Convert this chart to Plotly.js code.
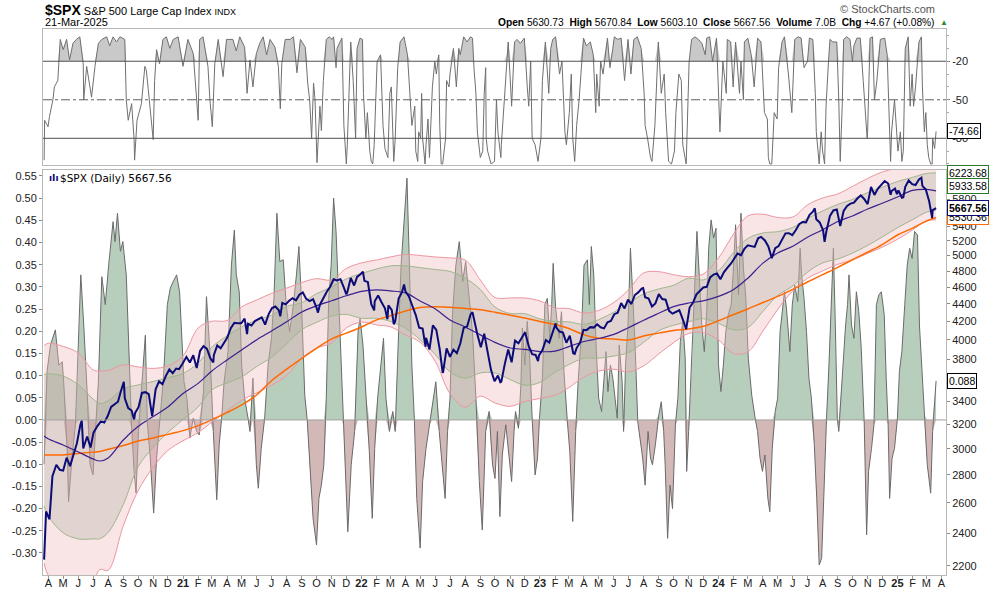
<!DOCTYPE html>
<html><head><meta charset="utf-8">
<script src="https://cdn.plot.ly/plotly-3.0.1.min.js"></script>
<style>html,body{margin:0;padding:0;background:#fff}#chart{width:990px;height:591px}</style>
</head><body><div id="chart"></div><script>
// ---------------- DATA ----------------
// $SPX closes (weekly plus key daily turning points)
const spx = [
['2020-03-23',2237],['2020-03-27',2541],['2020-04-03',2489],['2020-04-09',2790],['2020-04-17',2875],['2020-04-24',2837],
['2020-05-01',2831],['2020-05-08',2930],['2020-05-15',2864],['2020-05-22',2955],['2020-05-29',3044],['2020-06-05',3194],
['2020-06-08',3232],['2020-06-11',3002],['2020-06-19',3098],['2020-06-26',3009],['2020-07-02',3130],['2020-07-10',3185],
['2020-07-17',3225],['2020-07-24',3216],['2020-07-31',3271],['2020-08-07',3351],['2020-08-14',3373],['2020-08-21',3397],
['2020-08-28',3508],['2020-09-02',3580],['2020-09-04',3427],['2020-09-11',3341],['2020-09-18',3319],['2020-09-23',3237],
['2020-09-25',3298],['2020-10-02',3348],['2020-10-09',3477],['2020-10-16',3484],['2020-10-23',3465],['2020-10-30',3270],
['2020-11-06',3510],['2020-11-13',3585],['2020-11-20',3558],['2020-11-27',3638],['2020-12-04',3699],['2020-12-11',3663],
['2020-12-18',3709],['2020-12-24',3703],['2020-12-31',3756],['2021-01-08',3825],['2021-01-15',3768],['2021-01-22',3841],
['2021-01-29',3714],['2021-02-05',3887],['2021-02-12',3934],['2021-02-19',3907],['2021-02-26',3811],['2021-03-04',3768],
['2021-03-05',3842],['2021-03-12',3943],['2021-03-19',3913],['2021-03-26',3975],['2021-04-01',4020],['2021-04-09',4129],
['2021-04-16',4185],['2021-04-23',4180],['2021-04-30',4181],['2021-05-07',4233],['2021-05-12',4063],['2021-05-14',4174],
['2021-05-21',4156],['2021-05-28',4204],['2021-06-04',4230],['2021-06-11',4247],['2021-06-18',4166],['2021-06-25',4281],
['2021-07-02',4352],['2021-07-09',4370],['2021-07-16',4327],['2021-07-19',4258],['2021-07-23',4412],['2021-07-30',4395],
['2021-08-06',4437],['2021-08-13',4468],['2021-08-20',4442],['2021-08-27',4509],['2021-09-03',4535],['2021-09-10',4459],
['2021-09-17',4433],['2021-09-24',4455],['2021-10-01',4357],['2021-10-04',4300],['2021-10-08',4391],['2021-10-15',4471],
['2021-10-22',4545],['2021-10-29',4605],['2021-11-05',4697],['2021-11-12',4683],['2021-11-19',4698],['2021-11-26',4595],
['2021-12-01',4513],['2021-12-03',4538],['2021-12-10',4712],['2021-12-17',4620],['2021-12-23',4726],['2021-12-31',4766],
['2022-01-04',4793],['2022-01-07',4677],['2022-01-14',4663],['2022-01-21',4398],['2022-01-27',4326],['2022-01-28',4432],
['2022-02-04',4500],['2022-02-11',4419],['2022-02-18',4349],['2022-02-23',4225],['2022-02-25',4385],['2022-03-04',4329],
['2022-03-08',4170],['2022-03-11',4204],['2022-03-18',4463],['2022-03-25',4543],['2022-03-29',4632],['2022-04-01',4546],
['2022-04-08',4488],['2022-04-14',4393],['2022-04-22',4272],['2022-04-29',4132],['2022-05-06',4123],['2022-05-12',3930],
['2022-05-13',4024],['2022-05-20',3901],['2022-05-27',4158],['2022-06-03',4109],['2022-06-10',3901],['2022-06-16',3667],
['2022-06-17',3675],['2022-06-24',3912],['2022-07-01',3825],['2022-07-08',3899],['2022-07-15',3863],['2022-07-22',3962],
['2022-07-29',4130],['2022-08-05',4145],['2022-08-12',4280],['2022-08-16',4305],['2022-08-19',4228],['2022-08-26',4058],
['2022-09-02',3924],['2022-09-09',4067],['2022-09-16',3873],['2022-09-23',3693],['2022-09-30',3586],['2022-10-07',3640],
['2022-10-12',3577],['2022-10-14',3583],['2022-10-21',3752],['2022-10-28',3901],['2022-11-04',3771],['2022-11-11',3993],
['2022-11-18',3965],['2022-11-25',4026],['2022-12-01',4076],['2022-12-02',4072],['2022-12-09',3934],['2022-12-16',3852],
['2022-12-23',3845],['2022-12-28',3783],['2022-12-30',3840],['2023-01-06',3895],['2023-01-13',3999],['2023-01-20',3973],
['2023-01-27',4071],['2023-02-02',4179],['2023-02-03',4136],['2023-02-10',4090],['2023-02-17',4079],['2023-02-24',3970],
['2023-03-03',4046],['2023-03-10',3862],['2023-03-13',3855],['2023-03-17',3917],['2023-03-24',3971],['2023-03-31',4109],
['2023-04-06',4105],['2023-04-14',4138],['2023-04-21',4133],['2023-04-28',4169],['2023-05-05',4136],['2023-05-12',4124],
['2023-05-19',4192],['2023-05-26',4205],['2023-06-02',4282],['2023-06-09',4299],['2023-06-16',4410],['2023-06-23',4348],
['2023-06-30',4450],['2023-07-07',4399],['2023-07-14',4505],['2023-07-21',4536],['2023-07-28',4582],['2023-07-31',4589],
['2023-08-04',4478],['2023-08-11',4464],['2023-08-18',4370],['2023-08-25',4406],['2023-09-01',4516],['2023-09-08',4457],
['2023-09-15',4450],['2023-09-22',4320],['2023-09-29',4288],['2023-10-06',4309],['2023-10-13',4327],['2023-10-20',4224],
['2023-10-27',4117],['2023-11-03',4358],['2023-11-10',4415],['2023-11-17',4514],['2023-11-24',4559],['2023-12-01',4595],
['2023-12-08',4604],['2023-12-15',4719],['2023-12-22',4755],['2023-12-29',4770],['2024-01-05',4697],['2024-01-12',4784],
['2024-01-19',4840],['2024-01-26',4891],['2024-02-02',4959],['2024-02-09',5027],['2024-02-16',5006],['2024-02-23',5089],
['2024-03-01',5137],['2024-03-08',5124],['2024-03-15',5117],['2024-03-22',5234],['2024-03-28',5254],['2024-04-05',5204],
['2024-04-12',5123],['2024-04-19',4967],['2024-04-26',5100],['2024-05-03',5128],['2024-05-10',5223],['2024-05-17',5303],
['2024-05-24',5305],['2024-05-31',5278],['2024-06-07',5347],['2024-06-14',5432],['2024-06-21',5465],['2024-06-28',5460],
['2024-07-05',5567],['2024-07-12',5615],['2024-07-16',5667],['2024-07-19',5505],['2024-07-26',5459],['2024-08-02',5346],
['2024-08-05',5186],['2024-08-09',5344],['2024-08-16',5554],['2024-08-23',5634],['2024-08-30',5648],['2024-09-06',5408],
['2024-09-13',5626],['2024-09-20',5703],['2024-09-27',5738],['2024-10-04',5751],['2024-10-11',5815],['2024-10-18',5864],
['2024-10-25',5808],['2024-11-01',5729],['2024-11-08',5995],['2024-11-15',5870],['2024-11-22',5969],['2024-11-29',6032],
['2024-12-06',6090],['2024-12-13',6051],['2024-12-18',5872],['2024-12-20',5931],['2024-12-27',5970],['2024-12-31',5882],
['2025-01-03',5942],['2025-01-10',5827],['2025-01-13',5836],['2025-01-17',5997],['2025-01-24',6101],['2025-01-31',6041],
['2025-02-07',6026],['2025-02-14',6115],['2025-02-19',6144],['2025-02-21',6013],['2025-02-28',5955],['2025-03-07',5770],
['2025-03-10',5615],['2025-03-13',5521],['2025-03-14',5639],['2025-03-21',5667.56]
];

// Bands and moving averages (read monthly)
const bandDates = ['2020-03-23','2020-04-01','2020-05-01','2020-06-01','2020-07-01','2020-07-15','2020-08-01','2020-09-01','2020-10-01','2020-11-01','2020-12-01',
'2021-01-01','2021-02-01','2021-03-01','2021-04-01','2021-05-01','2021-06-01','2021-07-01','2021-08-01','2021-09-01','2021-10-01','2021-11-01','2021-12-01',
'2022-01-01','2022-02-01','2022-03-01','2022-04-01','2022-05-01','2022-06-01','2022-07-01','2022-08-01','2022-09-01','2022-10-01','2022-11-01','2022-12-01',
'2023-01-01','2023-02-01','2023-03-01','2023-04-01','2023-05-01','2023-06-01','2023-07-01','2023-08-01','2023-09-01','2023-10-01','2023-11-01','2023-12-01',
'2024-01-01','2024-02-01','2024-03-01','2024-04-01','2024-05-01','2024-06-01','2024-07-01','2024-08-01','2024-09-01','2024-10-01','2024-11-01','2024-12-01',
'2025-01-01','2025-02-01','2025-03-01','2025-03-21'];
const bandOuterUpper = [3940,3966,3932,3865,3695,3685,3690,3744,3725,3710,3735,
3834,4129,4203,4210,4365,4447,4524,4588,4657,4704,4688,4833,
4904,4943,4982,5015,5001,4982,4969,4943,4688,4476,4470,4470,
4435,4354,4347,4296,4325,4417,4566,4776,4792,4754,4729,4763,
4969,5295,5553,5578,5531,5538,5717,5824,5886,6004,6132,6239,
6305,6389,6440,6513];
const bandInnerUpper = [3651,3659,3635,3553,3422,3380,3406,3514,3551,3584,3619,
3661,3764,3925,4043,4140,4218,4270,4371,4414,4520,4602,4701,
4769,4826,4865,4867,4843,4819,4795,4711,4572,4365,4290,4288,
4229,4200,4197,4169,4221,4305,4408,4518,4578,4622,4710,4689,
4801,5045,5232,5309,5327,5387,5516,5627,5726,5800,5907,5991,
6082,6150,6213,6223.68];
const bandMiddle = [3103,3078,3030,2974,2920,2904,2928,3070,3181,3266,3350,
3472,3566,3685,3794,3896,4003,4096,4197,4308,4377,4437,4496,
4549,4566,4554,4530,4435,4342,4218,4140,4054,3974,3916,3901,
3879,3883,3930,3984,4015,4059,4132,4214,4293,4369,4411,4436,
4488,4571,4710,4901,5035,5126,5249,5354,5473,5553,5657,5743,
5839,5941,5957,5933.58];
const bandInnerLower = [2578,2508,2401,2363,2363,2365,2404,2589,2859,3010,3132,
3241,3350,3505,3570,3627,3730,3820,3960,4110,4190,4260,4280,
4236,4236,4201,4126,4002,3849,3676,3615,3666,3666,3602,3549,
3575,3674,3748,3811,3812,3834,3869,3975,4099,4158,4198,4231,
4179,4108,4133,4314,4501,4615,4786,4904,4956,5033,5136,5253,
5382,5499,5608,5640];
const bandOuterLower = [2217,2143,2080,2050,2110,2180,2175,2447,2683,2857,2986,
3064,3130,3220,3315,3410,3478,3547,3641,3811,3914,3970,4129,
4193,4162,4142,4054,3976,3778,3471,3349,3447,3386,3356,3400,
3426,3457,3526,3627,3683,3702,3676,3735,3855,3971,4070,4078,
4000,3860,3875,4096,4336,4554,4707,4801,4886,4942,5029,5113,
5220,5351,5483,5495];
const maLong = [2951,2951,2951,2963,2973,2978,2996,3026,3061,3087,3116,
3147,3189,3240,3300,3368,3460,3591,3702,3810,3911,4012,4073,
4139,4218,4263,4319,4359,4368,4361,4348,4333,4305,4271,4238,
4200,4166,4123,4054,4018,4011,3999,4043,4073,4101,4117,4147,
4208,4278,4342,4416,4488,4573,4663,4754,4847,4946,5045,5147,
5280,5377,5478,5530.36];

// Oscillator behind price (left axis)
const osc = [
['2020-03-23',-0.10],['2020-03-29',0.109],['2020-04-05',0.169],['2020-04-15',0.203],['2020-04-22',0.124],['2020-04-29',0.131],
['2020-05-02',0.086],['2020-05-09',-0.064],['2020-05-12',-0.184],['2020-05-19',-0.086],['2020-05-26',-0.011],['2020-06-02',0.184],
['2020-06-06',0.327],['2020-06-12',0.214],['2020-06-19',0.064],['2020-06-25',-0.101],['2020-07-01',-0.124],['2020-07-06',-0.026],
['2020-07-12',0.086],['2020-07-19',0.323],['2020-07-26',0.26],['2020-08-02',0.349],['2020-08-11',0.447],['2020-08-15',0.402],
['2020-08-20',0.466],['2020-08-26',0.38],['2020-08-31',0.402],['2020-09-07',0.327],['2020-09-12',0.154],['2020-09-18',-0.019],
['2020-09-23',-0.116],['2020-09-27',-0.165],['2020-10-02',-0.026],['2020-10-09',0.094],['2020-10-16',0.191],['2020-10-20',-0.004],
['2020-10-26',-0.086],['2020-11-02',-0.21],['2020-11-08',-0.086],['2020-11-15',0.004],['2020-11-22',0.094],['2020-11-30',0.26],
['2020-12-06',0.297],['2020-12-12',0.312],['2020-12-19',0.327],['2020-12-25',0.289],['2020-12-29',0.199],['2021-01-03',0.086],
['2021-01-09',0.049],['2021-01-15',-0.041],['2021-01-22',0.004],['2021-01-29',-0.026],['2021-02-03',-0.034],['2021-02-12',0.064],
['2021-02-18',0.278],['2021-02-25',0.154],['2021-03-04',-0.026],['2021-03-11',-0.18],['2021-03-16',-0.056],['2021-03-21',0.004],
['2021-03-26',0.086],['2021-04-03',0.154],['2021-04-10',0.349],['2021-04-16',0.428],['2021-04-20',0.327],['2021-04-26',0.289],
['2021-05-01',0.124],['2021-05-07',0.049],['2021-05-14',0.004],['2021-05-18',-0.026],['2021-05-24',0.094],['2021-05-31',-0.101],
['2021-06-04',-0.154],['2021-06-10',-0.064],['2021-06-17',0.004],['2021-06-24',0.124],['2021-07-01',0.184],['2021-07-06',0.274],
['2021-07-12',0.466],['2021-07-18',0.357],['2021-07-25',0.361],['2021-07-31',0.26],['2021-08-07',0.199],['2021-08-14',0.252],
['2021-08-21',0.327],['2021-08-26',0.391],['2021-08-31',0.274],['2021-09-07',0.056],['2021-09-12',0.0],['2021-09-17',-0.101],
['2021-09-24',-0.222],['2021-10-01',-0.282],['2021-10-06',-0.177],['2021-10-11',-0.147],['2021-10-16',-0.101],['2021-10-21',0.049],
['2021-10-26',0.274],['2021-10-31',0.349],['2021-11-05',0.50],['2021-11-10',0.425],['2021-11-16',0.26],['2021-11-21',0.124],
['2021-11-25',-0.011],['2021-12-01',-0.177],['2021-12-04',-0.252],['2021-12-11',-0.101],['2021-12-18',-0.026],['2021-12-25',0.199],
['2021-12-29',0.229],['2022-01-04',0.169],['2022-01-11',0.049],['2022-01-17',-0.071],['2022-01-23',-0.222],['2022-01-28',-0.064],
['2022-02-03',0.049],['2022-02-10',0.124],['2022-02-15',0.184],['2022-02-20',0.049],['2022-02-27',-0.026],['2022-03-06',0.019],
['2022-03-11',-0.026],['2022-03-16',0.139],['2022-03-23',0.349],['2022-03-30',0.462],['2022-04-04',0.545],['2022-04-09',0.349],
['2022-04-14',0.124],['2022-04-19',0.004],['2022-04-24',-0.177],['2022-05-01',-0.289],['2022-05-06',-0.139],['2022-05-13',-0.064],
['2022-05-20',-0.011],['2022-05-26',0.034],['2022-06-02',0.086],['2022-06-09',-0.026],['2022-06-16',-0.116],['2022-06-21',-0.177],
['2022-06-26',-0.026],['2022-07-01',0.049],['2022-07-06',0.237],['2022-07-13',0.349],['2022-07-20',0.402],['2022-07-27',0.312],
['2022-08-02',0.357],['2022-08-09',0.274],['2022-08-16',0.199],['2022-08-23',0.049],['2022-08-30',-0.139],['2022-09-05',-0.248],
['2022-09-12',-0.026],['2022-09-19',0.019],['2022-09-26',-0.101],['2022-10-01',-0.132],['2022-10-06',-0.026],['2022-10-11',-0.218],
['2022-10-16',-0.079],['2022-10-23',-0.011],['2022-10-30',-0.086],['2022-11-04',-0.139],['2022-11-09',-0.026],['2022-11-12',0.019],
['2022-11-18',-0.019],['2022-11-23',0.079],['2022-11-26',0.207],['2022-12-01',0.124],['2022-12-06',0.222],['2022-12-11',0.139],
['2022-12-16',0.004],['2022-12-22',-0.124],['2022-12-27',-0.086],['2022-12-31',0.004],['2023-01-06',0.094],['2023-01-11',0.26],
['2023-01-16',0.274],['2023-01-21',0.184],['2023-01-25',0.26],['2023-01-28',0.353],['2023-02-02',0.252],['2023-02-09',0.184],
['2023-02-14',0.244],['2023-02-19',0.109],['2023-02-26',-0.004],['2023-03-03',-0.071],['2023-03-09',-0.229],['2023-03-15',-0.026],
['2023-03-20',0.086],['2023-03-27',0.199],['2023-04-01',0.349],['2023-04-08',0.361],['2023-04-12',0.26],['2023-04-16',0.391],
['2023-04-21',0.327],['2023-04-26',0.161],['2023-05-01',0.049],['2023-05-07',0.019],['2023-05-12',0.094],['2023-05-16',0.154],
['2023-05-20',0.064],['2023-05-25',0.124],['2023-05-30',0.094],['2023-06-04',0.049],['2023-06-08',0.004],['2023-06-12',0.169],
['2023-06-18',0.086],['2023-06-21',-0.026],['2023-06-25',0.124],['2023-06-30',0.214],['2023-07-05',0.387],['2023-07-10',0.274],
['2023-07-15',0.154],['2023-07-20',-0.004],['2023-07-25',-0.041],['2023-07-30',-0.086],['2023-08-04',-0.147],['2023-08-10',-0.026],
['2023-08-15',-0.086],['2023-08-19',-0.101],['2023-08-25',-0.056],['2023-09-01',0.011],['2023-09-06',0.041],['2023-09-11',-0.026],
['2023-09-14',-0.101],['2023-09-19',-0.267],['2023-09-24',-0.147],['2023-09-29',-0.2],['2023-10-05',-0.011],['2023-10-10',0.049],
['2023-10-15',0.177],['2023-10-20',0.222],['2023-10-25',0.139],['2023-10-28',-0.116],['2023-11-01',-0.026],['2023-11-04',0.049],
['2023-11-09',0.154],['2023-11-13',0.289],['2023-11-18',0.425],['2023-11-23',0.327],['2023-11-28',0.214],['2023-12-03',0.154],
['2023-12-08',0.244],['2023-12-12',0.387],['2023-12-17',0.451],['2023-12-22',0.41],['2023-12-27',0.432],['2024-01-01',0.124],
['2024-01-06',0.064],['2024-01-11',0.124],['2024-01-16',0.199],['2024-01-21',0.237],['2024-01-27',0.26],['2024-02-01',0.349],
['2024-02-05',0.44],['2024-02-11',0.282],['2024-02-16',0.466],['2024-02-21',0.342],['2024-02-26',0.274],['2024-03-02',0.139],
['2024-03-09',0.056],['2024-03-16',0.004],['2024-03-21',-0.026],['2024-03-26',-0.086],['2024-03-31',-0.116],['2024-04-05',-0.079],
['2024-04-11',-0.177],['2024-04-15',-0.207],['2024-04-20',-0.064],['2024-04-26',0.019],['2024-05-01',0.049],['2024-05-06',0.199],
['2024-05-10',0.244],['2024-05-15',0.289],['2024-05-19',0.252],['2024-05-26',0.154],['2024-05-31',0.26],['2024-06-05',0.304],
['2024-06-11',0.267],['2024-06-16',0.387],['2024-06-19',0.327],['2024-06-24',0.274],['2024-06-29',0.199],['2024-07-04',0.094],
['2024-07-09',0.049],['2024-07-15',-0.056],['2024-07-20',-0.177],['2024-07-25',-0.327],['2024-07-30',-0.312],['2024-08-04',-0.139],
['2024-08-09',0.004],['2024-08-14',0.124],['2024-08-19',0.274],['2024-08-23',0.387],['2024-08-27',0.214],['2024-08-31',0.004],
['2024-09-03',-0.026],['2024-09-07',0.049],['2024-09-12',0.124],['2024-09-17',0.214],['2024-09-21',0.26],['2024-09-24',0.327],
['2024-09-29',0.214],['2024-10-04',0.184],['2024-10-09',0.289],['2024-10-14',0.244],['2024-10-19',0.161],['2024-10-25',-0.004],
['2024-10-30',-0.259],['2024-11-03',-0.116],['2024-11-09',-0.064],['2024-11-14',-0.011],['2024-11-19',0.26],['2024-11-24',0.282],
['2024-11-29',0.289],['2024-12-05',0.237],['2024-12-09',0.094],['2024-12-13',-0.011],['2024-12-16',-0.177],['2024-12-21',-0.086],
['2024-12-26',-0.064],['2025-01-01',0.004],['2025-01-05',0.109],['2025-01-10',0.154],['2025-01-16',0.26],['2025-01-21',0.349],
['2025-01-26',0.387],['2025-01-31',0.364],['2025-02-05',0.425],['2025-02-11',0.417],['2025-02-15',0.214],['2025-02-20',0.109],
['2025-02-25',0.011],['2025-03-03',-0.101],['2025-03-10',-0.165],['2025-03-14',-0.026],['2025-03-21',0.088]
];

// Williams %R (top panel)
const willR = [
['2020-03-23',-97],['2020-03-24',-66],['2020-03-31',-71],['2020-04-03',-63],['2020-04-10',-50],['2020-04-13',-40],['2020-04-20',-35],
['2020-04-25',-3],['2020-05-01',-11],['2020-05-08',-3],['2020-05-14',-19],['2020-05-21',-6],['2020-05-28',-3],['2020-06-04',-1],
['2020-06-11',-22],['2020-06-12',-50],['2020-06-18',-24],['2020-06-24',-40],['2020-06-28',-48],['2020-07-05',-24],['2020-07-12',-6],
['2020-07-19',-3],['2020-07-29',-1],['2020-08-04',-8],['2020-08-11',-1],['2020-08-18',-5],['2020-08-25',-1],['2020-09-04',-3],
['2020-09-07',-50],['2020-09-11',-66],['2020-09-18',-53],['2020-09-23',-81],['2020-09-24',-97],['2020-09-29',-66],['2020-10-08',-53],
['2020-10-15',-24],['2020-10-18',-27],['2020-10-22',-42],['2020-10-28',-66],['2020-11-01',-81],['2020-11-04',-35],['2020-11-08',-11],
['2020-11-14',-22],['2020-11-21',-3],['2020-11-28',-1],['2020-12-05',-10],['2020-12-12',-3],['2020-12-22',-1],['2021-01-01',-24],
['2021-01-11',-3],['2021-01-22',-14],['2021-01-28',-50],['2021-02-01',-66],['2021-02-04',-3],['2021-02-11',-1],['2021-02-21',-24],
['2021-02-25',-50],['2021-03-02',-71],['2021-03-07',-22],['2021-03-14',-3],['2021-03-21',-24],['2021-03-24',-32],['2021-03-31',-3],
['2021-04-13',-3],['2021-04-20',-12],['2021-04-27',-1],['2021-05-07',-9],['2021-05-12',-45],['2021-05-18',-19],['2021-05-24',-40],
['2021-05-31',-14],['2021-06-07',-6],['2021-06-14',-1],['2021-06-21',-15],['2021-06-28',-3],['2021-07-08',-9],['2021-07-15',-24],
['2021-07-19',-57],['2021-07-22',-22],['2021-07-29',-3],['2021-08-08',-3],['2021-08-15',-1],['2021-08-22',-29],['2021-08-29',-3],
['2021-09-08',-9],['2021-09-13',-37],['2021-09-17',-50],['2021-09-21',-80],['2021-09-25',-37],['2021-09-28',-50],['2021-10-02',-99],
['2021-10-08',-55],['2021-10-11',-74],['2021-10-15',-35],['2021-10-21',-3],['2021-10-27',-1],['2021-11-02',-3],['2021-11-05',-1],
['2021-11-10',-25],['2021-11-12',-10],['2021-11-18',-5],['2021-11-22',-2],['2021-11-26',-70],['2021-11-30',-95],['2021-12-01',-100],
['2021-12-03',-85],['2021-12-07',-30],['2021-12-10',-5],['2021-12-15',-35],['2021-12-17',-60],['2021-12-20',-80],['2021-12-23',-10],
['2021-12-29',-2],['2022-01-03',-3],['2022-01-05',-45],['2022-01-10',-80],['2022-01-13',-60],['2022-01-18',-90],['2022-01-21',-98],
['2022-01-24',-100],['2022-01-27',-85],['2022-02-02',-20],['2022-02-09',-15],['2022-02-14',-70],['2022-02-18',-88],['2022-02-24',-95],
['2022-02-28',-45],['2022-03-03',-40],['2022-03-08',-98],['2022-03-11',-80],['2022-03-16',-25],['2022-03-21',-5],['2022-03-29',-1],
['2022-04-05',-15],['2022-04-11',-55],['2022-04-14',-70],['2022-04-20',-55],['2022-04-22',-90],['2022-04-26',-98],['2022-04-28',-75],
['2022-05-02',-80],['2022-05-04',-45],['2022-05-06',-80],['2022-05-11',-100],['2022-05-13',-85],['2022-05-17',-65],['2022-05-20',-95],
['2022-05-26',-40],['2022-05-31',-20],['2022-06-03',-30],['2022-06-08',-15],['2022-06-10',-70],['2022-06-13',-100],['2022-06-16',-100],
['2022-06-22',-80],['2022-06-24',-35],['2022-06-29',-40],['2022-07-01',-30],['2022-07-08',-10],['2022-07-14',-40],['2022-07-19',-10],
['2022-07-22',-15],['2022-07-29',-1],['2022-08-05',-5],['2022-08-12',-1],['2022-08-16',-2],['2022-08-19',-25],['2022-08-23',-45],
['2022-08-26',-75],['2022-09-01',-95],['2022-09-06',-90],['2022-09-09',-45],['2022-09-12',-25],['2022-09-13',-80],['2022-09-16',-90],
['2022-09-23',-100],['2022-09-30',-98],['2022-10-04',-50],['2022-10-07',-75],['2022-10-13',-95],['2022-10-14',-85],['2022-10-20',-50],
['2022-10-25',-15],['2022-10-28',-5],['2022-11-02',-40],['2022-11-04',-55],['2022-11-10',-5],['2022-11-15',-3],['2022-11-22',-6],
['2022-11-30',-2],['2022-12-06',-40],['2022-12-09',-55],['2022-12-13',-20],['2022-12-16',-80],['2022-12-22',-85],['2022-12-28',-98],
['2023-01-03',-80],['2023-01-06',-35],['2023-01-12',-5],['2023-01-19',-45],['2023-01-23',-10],['2023-01-27',-3],['2023-02-02',-1],
['2023-02-10',-30],['2023-02-15',-20],['2023-02-21',-75],['2023-02-24',-85],['2023-03-02',-60],['2023-03-06',-30],['2023-03-09',-80],
['2023-03-13',-98],['2023-03-17',-70],['2023-03-22',-50],['2023-03-24',-40],['2023-03-31',-2],['2023-04-06',-8],['2023-04-14',-5],
['2023-04-20',-15],['2023-04-25',-60],['2023-04-27',-30],['2023-05-02',-55],['2023-05-05',-20],['2023-05-10',-30],['2023-05-19',-2],
['2023-05-24',-25],['2023-05-30',-10],['2023-06-02',-1],['2023-06-09',-3],['2023-06-16',-2],['2023-06-23',-35],['2023-06-30',-3],
['2023-07-06',-30],['2023-07-12',-3],['2023-07-19',-1],['2023-07-27',-10],['2023-08-02',-45],['2023-08-04',-70],['2023-08-09',-80],
['2023-08-15',-95],['2023-08-18',-98],['2023-08-24',-70],['2023-08-31',-5],['2023-09-06',-45],['2023-09-12',-30],['2023-09-15',-60],
['2023-09-21',-98],['2023-09-27',-100],['2023-10-03',-90],['2023-10-06',-60],['2023-10-12',-30],['2023-10-17',-35],['2023-10-20',-85],
['2023-10-26',-98],['2023-10-27',-100],['2023-11-02',-20],['2023-11-07',-3],['2023-11-14',-1],['2023-11-21',-3],['2023-11-28',-6],
['2023-12-05',-15],['2023-12-08',-2],['2023-12-14',-1],['2023-12-20',-20],['2023-12-28',-2],['2024-01-04',-75],['2024-01-10',-20],
['2024-01-17',-45],['2024-01-19',-3],['2024-01-26',-5],['2024-01-31',-40],['2024-02-05',-5],['2024-02-13',-45],['2024-02-16',-20],
['2024-02-21',-50],['2024-02-23',-5],['2024-03-01',-2],['2024-03-08',-15],['2024-03-14',-40],['2024-03-21',-2],['2024-03-28',-5],
['2024-04-04',-60],['2024-04-10',-65],['2024-04-12',-95],['2024-04-15',-100],['2024-04-19',-100],['2024-04-24',-60],['2024-04-30',-65],
['2024-05-03',-25],['2024-05-10',-5],['2024-05-15',-1],['2024-05-23',-30],['2024-05-30',-60],['2024-06-05',-3],['2024-06-12',-1],
['2024-06-18',-2],['2024-06-24',-25],['2024-07-01',-20],['2024-07-05',-2],['2024-07-12',-3],['2024-07-17',-45],['2024-07-19',-75],
['2024-07-24',-95],['2024-07-25',-100],['2024-07-29',-75],['2024-08-01',-90],['2024-08-05',-100],['2024-08-08',-55],['2024-08-13',-20],
['2024-08-16',-3],['2024-08-22',-5],['2024-08-30',-5],['2024-09-03',-50],['2024-09-06',-98],['2024-09-10',-55],['2024-09-13',-3],
['2024-09-19',-1],['2024-09-26',-3],['2024-10-01',-20],['2024-10-04',-8],['2024-10-10',-2],['2024-10-17',-2],['2024-10-23',-35],
['2024-10-31',-80],['2024-11-01',-75],['2024-11-06',-2],['2024-11-11',-1],['2024-11-15',-50],['2024-11-20',-35],['2024-11-27',-3],
['2024-12-06',-2],['2024-12-11',-15],['2024-12-18',-98],['2024-12-20',-75],['2024-12-26',-50],['2024-12-31',-85],['2025-01-02',-90],
['2025-01-07',-75],['2025-01-10',-98],['2025-01-13',-90],['2025-01-15',-30],['2025-01-17',-10],['2025-01-23',-1],['2025-01-27',-55],
['2025-01-31',-30],['2025-02-03',-55],['2025-02-07',-40],['2025-02-14',-5],['2025-02-19',-1],['2025-02-21',-40],['2025-02-25',-75],
['2025-02-28',-60],['2025-03-03',-85],['2025-03-06',-95],['2025-03-10',-100],['2025-03-13',-100],['2025-03-14',-80],['2025-03-18',-88],
['2025-03-21',-74.66]
];
const willRLevels = [-20, -50, -80];

// Axis ticks and labels
const monthTicks = ['2020-04-01','2020-05-01','2020-06-01','2020-07-01','2020-08-01','2020-09-01','2020-10-01','2020-11-01','2020-12-01',
'2021-01-01','2021-02-01','2021-03-01','2021-04-01','2021-05-01','2021-06-01','2021-07-01','2021-08-01','2021-09-01','2021-10-01','2021-11-01','2021-12-01',
'2022-01-01','2022-02-01','2022-03-01','2022-04-01','2022-05-01','2022-06-01','2022-07-01','2022-08-01','2022-09-01','2022-10-01','2022-11-01','2022-12-01',
'2023-01-01','2023-02-01','2023-03-01','2023-04-01','2023-05-01','2023-06-01','2023-07-01','2023-08-01','2023-09-01','2023-10-01','2023-11-01','2023-12-01',
'2024-01-01','2024-02-01','2024-03-01','2024-04-01','2024-05-01','2024-06-01','2024-07-01','2024-08-01','2024-09-01','2024-10-01','2024-11-01','2024-12-01',
'2025-01-01','2025-02-01','2025-03-01','2025-04-01'];
const monthLabels = ['A','M','J','J','A','S','O','N','D',
'<b>21</b>','F','M','A','M','J','J','A','S','O','N','D',
'<b>22</b>','F','M','A','M','J','J','A','S','O','N','D',
'<b>23</b>','F','M','A','M','J','J','A','S','O','N','D',
'<b>24</b>','F','M','A','M','J','J','A','S','O','N','D',
'<b>25</b>','F','M','A'];
const priceTicks = [2200,2400,2600,2800,3000,3200,3400,3600,3800,4000,4200,4400,4600,4800,5000,5200,5400,5600,5800,6000,6200];
const priceTickText = ['2200','2400','2600','2800','3000','3200','3400','','3800','4000','4200','4400','4600','4800','5000','5200','5400','','5800','',''];
const oscTicks = [-0.30,-0.25,-0.20,-0.15,-0.10,-0.05,0.00,0.05,0.10,0.15,0.20,0.25,0.30,0.35,0.40,0.45,0.50,0.55];
const oscTickText = ['-0.30','-0.25','-0.20','-0.15','-0.10','-0.05','0.00','0.05','0.10','0.15','0.20','0.25','0.30','0.35','0.40','0.45','0.50','0.55'];
const wrTickText = ['-20','-50','-80'];

// ---------------- DRAW ----------------
const FONT = 'Liberation Sans, Arial, sans-serif';
const px = spx.map(d => d[0]), py = spx.map(d => d[1]);
const ox = osc.map(d => d[0]), oy = osc.map(d => d[1]);
const wx = willR.map(d => d[0]), wy = willR.map(d => d[1]);

const traces = [
  // oscillator (base y, left axis)
  {x: ox, y: oy.map(v => Math.max(v, 0)), xaxis:'x', yaxis:'y', mode:'lines', line:{width:0, color:'rgba(0,0,0,0)'},
   fill:'tozeroy', fillcolor:'rgba(105,150,115,0.47)', hoverinfo:'skip'},
  {x: ox, y: oy.map(v => Math.min(v, 0)), xaxis:'x', yaxis:'y', mode:'lines', line:{width:0, color:'rgba(0,0,0,0)'},
   fill:'tozeroy', fillcolor:'rgba(150,85,85,0.42)', hoverinfo:'skip'},
  {x: ox, y: oy, xaxis:'x', yaxis:'y', mode:'lines', line:{width:1, color:'#6a6a6a'}},
  // bands (overlay y2, log price axis)
  {x: bandDates, y: bandOuterLower, xaxis:'x', yaxis:'y2', mode:'lines', line:{width:1, color:'rgb(236,150,160)', shape:'spline'}},
  {x: bandDates, y: bandOuterUpper, xaxis:'x', yaxis:'y2', mode:'lines', line:{width:1, color:'rgb(236,150,160)', shape:'spline'},
   fill:'tonexty', fillcolor:'rgba(240,185,190,0.38)'},
  {x: bandDates, y: bandInnerLower, xaxis:'x', yaxis:'y2', mode:'lines', line:{width:1, color:'rgb(160,182,140)', shape:'spline'}},
  {x: bandDates, y: bandInnerUpper, xaxis:'x', yaxis:'y2', mode:'lines', line:{width:1, color:'rgb(160,182,140)', shape:'spline'},
   fill:'tonexty', fillcolor:'rgba(165,170,150,0.28)'},
  {x: bandDates, y: maLong, xaxis:'x', yaxis:'y2', mode:'lines', line:{width:1.5, color:'#ff6a00', shape:'spline'}},
  {x: bandDates, y: bandMiddle, xaxis:'x', yaxis:'y2', mode:'lines', line:{width:1.2, color:'#3d1f8f', shape:'spline'}},
  {x: px, y: py, xaxis:'x', yaxis:'y2', mode:'lines', line:{width:2, color:'#0c0c78'}},
  // Williams %R top panel
  {x: wx, y: wx.map(() => willRLevels[0]), xaxis:'x2', yaxis:'y3', mode:'lines', line:{width:0, color:'rgba(0,0,0,0)'}, hoverinfo:'skip'},
  {x: wx, y: wy.map(v => Math.max(v, willRLevels[0])), xaxis:'x2', yaxis:'y3', mode:'lines', line:{width:0, color:'rgba(0,0,0,0)'},
   fill:'tonexty', fillcolor:'#c9c9c9', hoverinfo:'skip'},
  {x: wx, y: wy, xaxis:'x2', yaxis:'y3', mode:'lines', line:{width:1, color:'#707070'}}
];

const axisLine = '#b8b8b8';
const tickFont = {family: FONT, size: 11, color: '#222'};
const xr = ['2020-03-20 17:00', '2025-04-10 07:00'];

const last = a => a[a.length - 1];
function tag(val, yref, txt, border, extra) {
  return Object.assign({xref:'paper', x:1, xanchor:'left', xshift:1, yref:yref, y:val, yanchor:'middle',
    text:txt, showarrow:false, bgcolor:'#fff', bordercolor:border, borderwidth:1, borderpad:1,
    font:{family:FONT, size:10.5, color:'#000'}}, extra || {});
}

const annotations = [
  {xref:'paper', yref:'paper', x:0, y:1.0348, xanchor:'left', yanchor:'middle', showarrow:false,
   text:"<span style='font-size:14px'><b>$SPX</b></span> S&amp;P 500 Large Cap Index <span style='font-size:9px'>INDX</span>",
   font:{family:FONT, size:11, color:'#000'}},
  {xref:'paper', yref:'paper', x:0, y:1.0128, xanchor:'left', yanchor:'middle', showarrow:false,
   text:'21-Mar-2025', font:{family:FONT, size:11, color:'#000'}},
  {xref:'paper', yref:'paper', x:0.990, y:1.0366, xanchor:'right', yanchor:'middle', showarrow:false,
   text:'\u00a9 StockCharts.com', font:{family:FONT, size:11, color:'#555'}},
  {xref:'paper', yref:'paper', x:0.990, y:1.0128, xanchor:'right', yanchor:'middle', showarrow:false,
   text:'<b>Open</b> 5630.73\u00a0\u00a0<b>High</b> 5670.84\u00a0\u00a0<b>Low</b> 5603.10\u00a0\u00a0<b>Close</b> 5667.56\u00a0\u00a0<b>Volume</b> 7.0B\u00a0\u00a0<b>Chg</b> +4.67 (+0.08%)',
   font:{family:FONT, size:10.2, color:'#000'}},
  {xref:'paper', yref:'paper', x:0.9978, y:1.0128, xanchor:'center', yanchor:'middle', showarrow:false,
   text:'\u25B2', font:{family:FONT, size:8, color:'#2e8b2e'}},
  // legend label
  {xref:'paper', yref:'paper', x:0.004, y:0.7271, xanchor:'left', yanchor:'middle', showarrow:false,
   text:"<b>\u0131I\u0131</b>", font:{family:'DejaVu Sans', size:9, color:'#0c0c78'}},
  {xref:'paper', yref:'paper', x:0.0166, y:0.7271, xanchor:'left', yanchor:'middle', showarrow:false,
   text:'$SPX (Daily) ' + last(py).toFixed(2), font:{family:'DejaVu Sans, Verdana, sans-serif', size:10.5, color:'#000'}},
  // value tags
  tag(last(wy), 'y3', last(wy).toFixed(2), '#000'),
  tag(Math.log10(last(bandInnerUpper)), 'y2', last(bandInnerUpper).toFixed(2), '#2a7a2a'),
  tag(Math.log10(last(bandMiddle)), 'y2', last(bandMiddle).toFixed(2), '#2a7a2a', {yshift:5}),
  tag(Math.log10(last(maLong)), 'y2', last(maLong).toFixed(2), '#ff6a00'),
  tag(Math.log10(last(py)), 'y2', '<b>' + last(py).toFixed(2) + '</b>', '#0c0c78'),
  tag(last(oy), 'y', last(oy).toFixed(3), '#000')
];

const shapes = [
  {type:'line', xref:'paper', x0:0, x1:1, yref:'y', y0:0, y1:0, line:{color:'#a0a0a0', width:1}},
  {type:'line', xref:'paper', x0:0, x1:1, yref:'y3', y0:willRLevels[0], y1:willRLevels[0], line:{color:'#505050', width:1}},
  {type:'line', xref:'paper', x0:0, x1:1, yref:'y3', y0:willRLevels[1], y1:willRLevels[1], line:{color:'#606060', width:1, dash:'dashdot'}},
  {type:'line', xref:'paper', x0:0, x1:1, yref:'y3', y0:willRLevels[2], y1:willRLevels[2], line:{color:'#505050', width:1}}
];

const layout = {
  width: 990, height: 591,
  margin: {l:43, r:44, t:29, b:16, pad:0},
  paper_bgcolor:'#fff', plot_bgcolor:'#fff',
  showlegend:false,
  font:{family:FONT, size:11, color:'#222'},
  xaxis: {type:'date', range:xr, domain:[0,1], anchor:'y', tickmode:'array', tickvals:monthTicks, ticktext:monthLabels,
    ticks:'outside', ticklen:3, tickcolor:'#999', tickfont:tickFont, ticklabelstandoff:-5, showgrid:false, zeroline:false,
    showline:true, linecolor:axisLine, linewidth:1, mirror:true},
  xaxis2: {type:'date', range:xr, matches:'x', domain:[0,1], anchor:'y3', showticklabels:false, ticks:'',
    showgrid:false, zeroline:false, showline:true, linecolor:axisLine, linewidth:1, mirror:true},
  yaxis: {domain:[0, 0.7418], range:[-0.3496, 0.5635], side:'left', anchor:'x', tickmode:'array', tickvals:oscTicks, ticktext:oscTickText,
    ticks:'outside', ticklen:3, tickcolor:'#888', tickfont:tickFont, showgrid:false, zeroline:false,
    showline:true, linecolor:axisLine, linewidth:1, mirror:true},
  yaxis2: {overlaying:'y', side:'right', type:'log', anchor:'x', range:[Math.log10(2148), Math.log10(6271)],
    tickmode:'array', tickvals:priceTicks, ticktext:priceTickText, ticks:'outside', ticklen:3, tickcolor:'#888',
    tickfont:tickFont, showgrid:false, zeroline:false, showline:false},
  yaxis3: {domain:[0.7509, 1], range:[-100.8, 5.1], side:'right', anchor:'x2', tickmode:'array', tickvals:willRLevels, ticktext:wrTickText,
    ticks:'outside', ticklen:3, tickcolor:'#888', tickfont:tickFont, showgrid:false, zeroline:false,
    showline:true, linecolor:axisLine, linewidth:1, mirror:true,
    minor:{tickmode:'linear', dtick:10, tick0:0, ticks:'outside', ticklen:2, tickcolor:'#aaa'}},
  annotations: annotations,
  shapes: shapes
};

Plotly.newPlot('chart', traces, layout, {staticPlot:true, displayModeBar:false});
</script></body></html>
